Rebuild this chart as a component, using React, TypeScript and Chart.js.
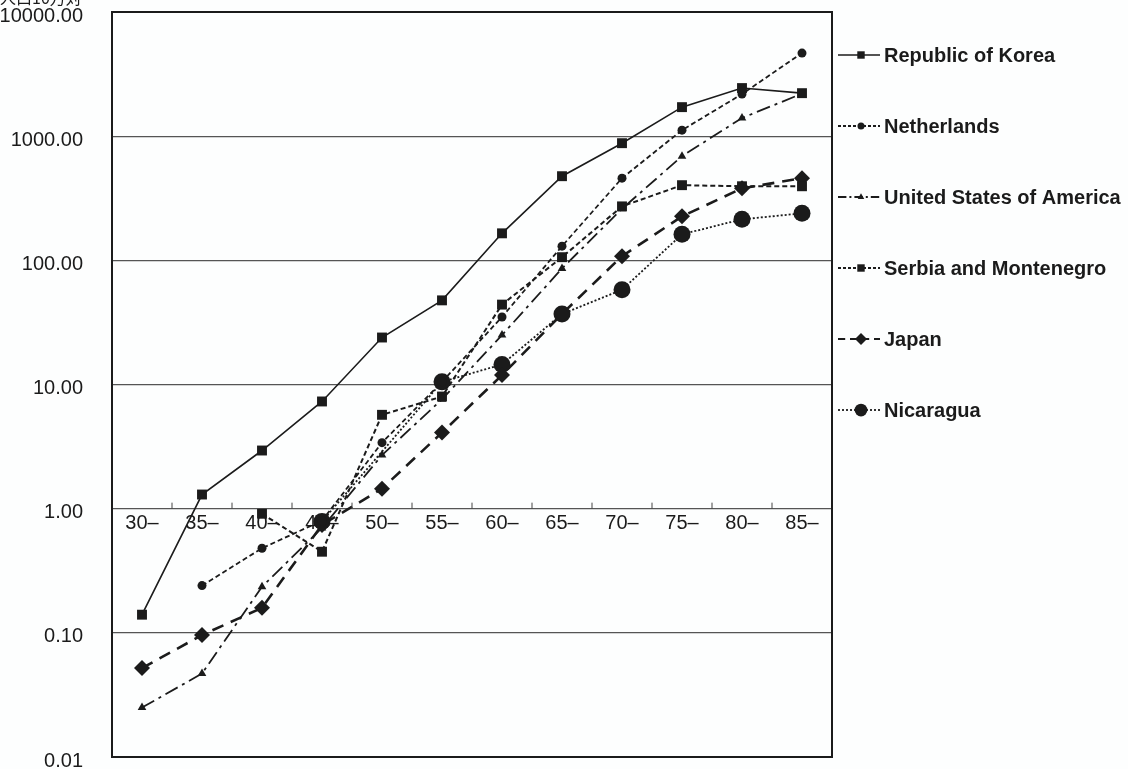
import React, { useEffect, useRef } from "react";
import { Chart, registerables } from "chart.js";

Chart.register(...registerables);

const categories = ["30–", "35–", "40–", "45–", "50–", "55–", "60–", "65–", "70–", "75–", "80–", "85–"];
const seriesNames = [
  "Republic of Korea",
  "Netherlands",
  "United States of America",
  "Serbia and Montenegro",
  "Japan",
  "Nicaragua",
];
const korea = [0.14, 1.3, 2.94, 7.3, 23.9, 47.6, 165, 476, 878, 1713, 2440, 2220];
const netherlands = [null, 0.24, 0.48, 0.8, 3.4, 10.5, 35, 130, 459, 1118, 2182, 4670];
const usa = [0.025, 0.047, 0.235, 0.7, 2.7, 7.6, 25, 86, 260, 690, 1400, 2200];
const serbia = [null, null, 0.91, 0.45, 5.7, 8.0, 44, 106, 272, 403, 395, 395];
const japan = [0.052, 0.096, 0.159, 0.74, 1.45, 4.1, 11.9, 37, 108, 226, 380, 459];
const nicaragua = [null, null, null, 0.79, null, 10.5, 14.5, 37, 58, 162, 214, 239];
const yTicks = [0.01, 0.1, 1, 10, 100, 1000, 10000];
const unitLabel = "人口10万対";

const INK = "#1b1b1b";
const AXIS_FONT = { family: "'Liberation Sans', Arial, sans-serif", size: 20 };

const drawMarker = (ctx: CanvasRenderingContext2D, style: string, x: number, y: number, r: number) => {
  ctx.beginPath();
  if (style === "rect") {
    const s = r * Math.SQRT1_2;
    ctx.rect(x - s, y - s, 2 * s, 2 * s);
  } else if (style === "rectRot") {
    ctx.moveTo(x, y - r);
    ctx.lineTo(x + r, y);
    ctx.lineTo(x, y + r);
    ctx.lineTo(x - r, y);
    ctx.closePath();
  } else if (style === "triangle") {
    ctx.moveTo(x, y - r);
    ctx.lineTo(x + r * 0.87, y + r * 0.5);
    ctx.lineTo(x - r * 0.87, y + r * 0.5);
    ctx.closePath();
  } else {
    ctx.arc(x, y, r, 0, Math.PI * 2);
  }
  ctx.fill();
};

const decorPlugin = {
  id: "decor",
  afterDraw(chart: any) {
    const { ctx, chartArea: a, scales } = chart;
    ctx.save();
    // x tick marks on the 1.00 line, between categories
    const xs = scales.x;
    const y1 = scales.y.getPixelForValue(1);
    ctx.strokeStyle = "#444";
    ctx.lineWidth = 1;
    ctx.setLineDash([]);
    for (let i = 0; i < categories.length - 1; i++) {
      const x = (xs.getPixelForValue(i) + xs.getPixelForValue(i + 1)) / 2;
      ctx.beginPath();
      ctx.moveTo(x, y1 - 6);
      ctx.lineTo(x, y1);
      ctx.stroke();
    }
    // plot frame
    ctx.strokeStyle = INK;
    ctx.lineWidth = 2;
    ctx.strokeRect(a.left, a.top, a.right - a.left, a.bottom - a.top);

    // legend
    const legendTop = 55;
    const legendGap = 71;
    chart.data.datasets.forEach((ds: any, i: number) => {
      const y = legendTop + i * legendGap;
      const x0 = a.right + 6;
      const x1 = a.right + 48;
      ctx.strokeStyle = INK;
      ctx.fillStyle = INK;
      ctx.lineWidth = Math.min(ds.borderWidth, 2);
      ctx.setLineDash(ds.borderDash ? ds.borderDash.map((d: number) => Math.max(2, d * 0.6)) : []);
      ctx.beginPath();
      ctx.moveTo(x0, y);
      ctx.lineTo(x1, y);
      ctx.stroke();
      ctx.setLineDash([]);
      drawMarker(ctx, ds.pointStyle, (x0 + x1) / 2 + 2, y, Math.max(3.5, ds.pointRadius * 0.75));
      ctx.font = "bold 20px 'Liberation Sans', Arial, sans-serif";
      ctx.textAlign = "left";
      ctx.textBaseline = "middle";
      ctx.fillText(ds.label, a.right + 52, y + 1);
    });

    // unit label, partly cut off at the top edge
    ctx.font = "16px 'Noto Sans CJK JP', sans-serif";
    ctx.textAlign = "left";
    ctx.textBaseline = "alphabetic";
    ctx.fillStyle = INK;
    ctx.fillText(unitLabel, 0, 4);
    ctx.restore();
  },
};

export default function App() {
  const ref = useRef<HTMLCanvasElement | null>(null);

  useEffect(() => {
    if (!ref.current) return;
    const mk = (label: string, data: (number | null)[], opts: any) => ({
      label,
      data,
      borderColor: INK,
      backgroundColor: INK,
      pointBackgroundColor: INK,
      pointBorderColor: INK,
      pointBorderWidth: 0,
      tension: 0,
      fill: false,
      ...opts,
    });
    const chart = new Chart(ref.current, {
      type: "line",
      data: {
        labels: categories,
        datasets: [
          mk(seriesNames[0], korea, { borderWidth: 1.6, pointStyle: "rect", pointRadius: 7 }),
          mk(seriesNames[1], netherlands, { borderWidth: 1.8, borderDash: [5, 3], pointStyle: "circle", pointRadius: 4.5 }),
          mk(seriesNames[2], usa, { borderWidth: 1.8, borderDash: [14, 5, 3, 5], pointStyle: "triangle", pointRadius: 5 }),
          mk(seriesNames[3], serbia, { borderWidth: 2, borderDash: [5, 3], pointStyle: "rect", pointRadius: 7 }),
          mk(seriesNames[4], japan, { borderWidth: 2.6, borderDash: [12, 8], pointStyle: "rectRot", pointRadius: 8 }),
          mk(seriesNames[5], nicaragua, { borderWidth: 1.8, borderDash: [2, 2], pointStyle: "circle", pointRadius: 8.5, spanGaps: true }),
        ],
      },
      options: {
        animation: false,
        responsive: true,
        maintainAspectRatio: false,
        layout: { padding: { top: 12, bottom: 12, left: 0, right: 296 } },
        plugins: { legend: { display: false }, tooltip: { enabled: false }, title: { display: false } },
        scales: {
          x: {
            type: "category",
            position: { y: 1 } as any,
            offset: true,
            grid: { display: false, drawTicks: false },
            border: { display: false },
            ticks: { color: INK, font: AXIS_FONT, padding: 3, maxRotation: 0, autoSkip: false },
          },
          y: {
            type: "logarithmic",
            min: 0.01,
            max: 10000,
            afterBuildTicks: (s: any) => {
              s.ticks = yTicks.map((v) => ({ value: v }));
            },
            afterFit: (s: any) => {
              s.width = 112;
              s.paddingTop = 0;
              s.paddingBottom = 0;
            },
            grid: { color: "#555", lineWidth: 1.2, drawTicks: false },
            border: { display: false },
            ticks: {
              color: INK,
              font: AXIS_FONT,
              padding: 29,
              labelOffset: 4,
              autoSkip: false,
              callback: (v: any) => Number(v).toFixed(2),
            },
          },
        },
      },
      plugins: [decorPlugin],
    });
    return () => chart.destroy();
  }, []);

  return (
    <div style={{ position: "fixed", left: 0, top: 0, width: 1128, height: 769, background: "#fdfefe" }}>
      <canvas ref={ref} />
    </div>
  );
}
